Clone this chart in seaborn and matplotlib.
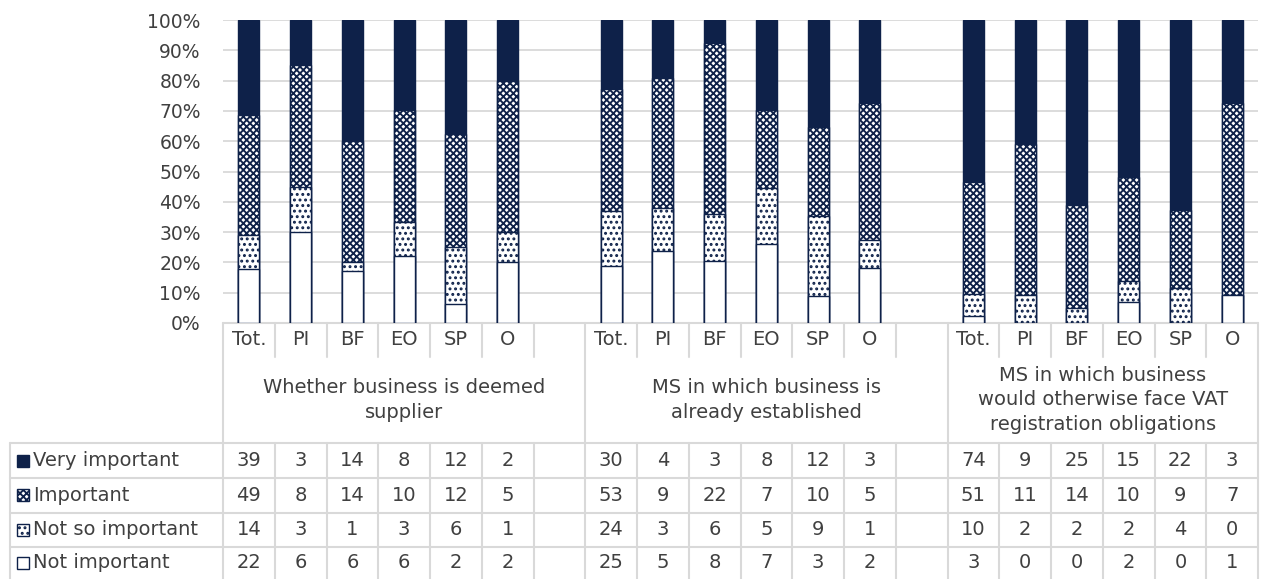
import numpy as np
import pandas as pd
import matplotlib
matplotlib.use('Agg')
import matplotlib.pyplot as plt
from matplotlib.patches import Rectangle
import seaborn as sns

# --- Data ---
cats = ['Tot.', 'PI', 'BF', 'EO', 'SP', 'O']
groups = ['Whether business is deemed\nsupplier',
          'MS in which business is\nalready established',
          'MS in which business\nwould otherwise face VAT\nregistration obligations']
levels = ['Very important', 'Important', 'Not so important', 'Not important']

very_important = [[39, 3, 14, 8, 12, 2], [30, 4, 3, 8, 12, 3], [74, 9, 25, 15, 22, 3]]
important = [[49, 8, 14, 10, 12, 5], [53, 9, 22, 7, 10, 5], [51, 11, 14, 10, 9, 7]]
not_so_important = [[14, 3, 1, 3, 6, 1], [24, 3, 6, 5, 9, 1], [10, 2, 2, 2, 4, 0]]
not_important = [[22, 6, 6, 6, 2, 2], [25, 5, 8, 7, 3, 2], [3, 0, 0, 2, 0, 1]]

counts = {'Very important': very_important, 'Important': important,
          'Not so important': not_so_important, 'Not important': not_important}

NAVY = '#0E2149'
GRID = '#D9D9D9'
TXT = '#404040'

# slot layout: 6 bars + 1 empty slot per group (last group has no trailing gap)
slots = []
for g in range(3):
    slots += [f'{g}_{c}' for c in cats]
    if g < 2:
        slots.append(f'gap{g}')
pos = {s: i for i, s in enumerate(slots)}

rows = []
for g in range(3):
    for i, c in enumerate(cats):
        ni = not_important[g][i]
        ns = not_so_important[g][i]
        im = important[g][i]
        vi = very_important[g][i]
        tot = ni + ns + im + vi
        rows.append(dict(slot=f'{g}_{c}',
                         **{'Not important': ni / tot,
                            'Not so important': (ni + ns) / tot,
                            'Important': (ni + ns + im) / tot,
                            'Very important': 1.0}))
df = pd.DataFrame(rows)
df['slot'] = pd.Categorical(df['slot'], categories=slots)

styles = {
    'Very important': dict(color=NAVY, hatch=None),
    'Important': dict(color='white', hatch='xxxxx'),
    'Not so important': dict(color='white', hatch='...'),
    'Not important': dict(color='white', hatch=None),
}

sns.set_theme(style='white')
plt.rcParams['font.family'] = ['DejaVu Sans']
plt.rcParams['hatch.linewidth'] = 1.35

fig = plt.figure(figsize=(12.66, 5.79), dpi=100)
ax = fig.add_axes([223 / 1266, (579 - 323) / 579, 1035 / 1266, 303 / 579])

for z, lev in enumerate(levels):
    st = styles[lev]
    sns.barplot(data=df, x='slot', y=lev, order=slots, color=st['color'],
                saturation=1, width=0.41, edgecolor=NAVY, linewidth=1.0,
                hatch=st['hatch'], errorbar=None, ax=ax, zorder=2 + z)

ax.set_xlim(-0.5, len(slots) - 0.5)
ax.set_ylim(0, 1)
ax.set_yticks(np.arange(0, 1.01, 0.1))
ax.set_yticklabels([f'{int(round(v * 100))}%' for v in np.arange(0, 1.01, 0.1)])
ax.tick_params(axis='y', length=0, pad=16, labelsize=13.5, labelcolor=TXT)
ax.tick_params(axis='x', length=0, labelbottom=False)
ax.set_xlabel('')
ax.set_ylabel('')
ax.grid(axis='y', color=GRID, lw=1.3)
ax.set_axisbelow(True)
for sp in ax.spines.values():
    sp.set_visible(False)

# --- Data table below the chart ---
tr = ax.get_xaxis_transform()
y_cat = -0.1122
y_grp = -0.396
row_lines = [-0.396, -0.5116, -0.627, -0.739]
y_bot = -0.87
x_left = -4.616
x_right = len(slots) - 0.5


def hline(y, x0, x1):
    ax.plot([x0, x1], [y, y], transform=tr, color=GRID, lw=1.5, clip_on=False, zorder=1)


def vline(x, y0, y1):
    ax.plot([x, x], [y0, y1], transform=tr, color=GRID, lw=1.5, clip_on=False, zorder=1)


hline(0, -0.5, x_right)
for y in row_lines:
    hline(y, x_left, x_right)
vline(x_left, y_grp, y_bot)
for k in range(len(slots) + 1):
    x = k - 0.5
    if k in (0, 7, 14, len(slots)):
        vline(x, 0, y_bot)
    else:
        vline(x, 0, y_cat)
        vline(x, y_grp, y_bot)

# category labels
for s in slots:
    if s.startswith('gap'):
        continue
    ax.text(pos[s], -0.056, s.split('_')[1], transform=tr, ha='center', va='center',
            fontsize=14, color=TXT)

# group labels
centers = [3.0, 10.0, 16.5]
for g, lab in enumerate(groups):
    ax.text(centers[g], -0.254, lab, transform=tr, ha='center', va='center',
            fontsize=14, color=TXT, linespacing=1.35)

# value rows with legend keys
row_centers = [(row_lines[i] + (row_lines[i + 1] if i < 3 else -0.845)) / 2 for i in range(4)]
key_w = 12 / 51.75
key_h = 12 / 303
for r, lev in enumerate(levels):
    yc = row_centers[r]
    st = styles[lev]
    ax.add_patch(Rectangle((-4.481, yc - key_h / 2), key_w, key_h, transform=tr,
                           facecolor=st['color'], edgecolor=NAVY, hatch=st['hatch'],
                           lw=1.0, clip_on=False))
    ax.text(-4.17, yc, lev, transform=tr, ha='left', va='center', fontsize=14, color=TXT)
    for g in range(3):
        for i, c in enumerate(cats):
            ax.text(pos[f'{g}_{c}'], yc, str(counts[lev][g][i]), transform=tr,
                    ha='center', va='center', fontsize=14, color=TXT)

fig.savefig('out.png', dpi=100)
